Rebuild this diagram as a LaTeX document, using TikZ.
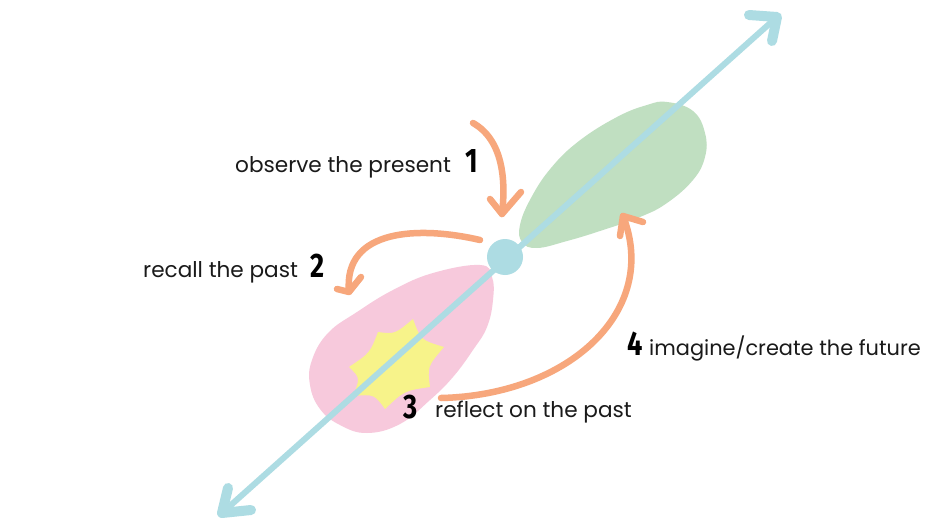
\documentclass[tikz,border=0pt]{standalone}
\usepackage{fontspec}
\setmainfont{Poppins}
\newfontfamily\numfont{Fira Sans}
\usetikzlibrary{calc}

\definecolor{axisblue}{HTML}{ADDCE3}
\definecolor{leafgreen}{HTML}{C0DFC1}
\definecolor{blushpink}{HTML}{F7C9DC}
\definecolor{sparkyellow}{HTML}{F7F38A}
\definecolor{flowor}{HTML}{F7A77C}
\definecolor{inkblack}{HTML}{1A1A1A}

\tikzset{
  axisline/.style={draw=axisblue, line width=6pt, line cap=round},
  axishead/.style={draw=axisblue, line width=10pt, line cap=round, line join=round},
  flow/.style={draw=flowor, line width=6.5pt, line cap=round},
  flowhead/.style={draw=flowor, line width=6.5pt, line cap=round, line join=round},
  caption/.style={inner sep=0pt, text=inkblack, font=\fontsize{21.6}{24}\selectfont, anchor=base west},
  stepnum/.style={inner sep=0pt, text=black, font=\numfont\bfseries\fontsize{34}{36}\selectfont, anchor=base},
}

\begin{document}
\begin{tikzpicture}[x=1pt, y=-1pt]
\clip (0,0) rectangle (926,524);
\fill[white] (0,0) rectangle (926,524);

% future blob
\fill[leafgreen] plot[smooth cycle, tension=0.7] coordinates {
  (520,225) (531,198) (551,168) (579,141) (617,117) (647,105) (667,102)
  (693,111) (705,133) (705,157) (693,180) (667,203) (640,217) (600,231)
  (567,241) (537,248) (522,242)};

% past blob
\fill[blushpink] plot[smooth cycle, tension=0.7] coordinates {
  (480,265) (492,277) (493,300) (487,327) (473,350) (453,377) (430,400)
  (400,424) (367,433) (340,425) (320,409) (310,385) (312,360) (328,333)
  (357,312) (393,290) (433,273)};

% spark in the past
\coordinate (sc) at (393,365);
\coordinate (s1) at (413,319);
\coordinate (s2) at (444,347);
\coordinate (s3) at (430,387);
\coordinate (s4) at (385,409);
\coordinate (s5) at (353,396);
\coordinate (s6) at (349,367);
\coordinate (s7) at (378,332);
\fill[sparkyellow] (s1)
  .. controls ($(s1)!.5!(s2)!.22!(sc)$) .. (s2)
  .. controls ($(s2)!.5!(s3)!.22!(sc)$) .. (s3)
  .. controls ($(s3)!.5!(s4)!.22!(sc)$) .. (s4)
  .. controls ($(s4)!.5!(s5)!.22!(sc)$) .. (s5)
  .. controls ($(s5)!.5!(s6)!.22!(sc)$) .. (s6)
  .. controls ($(s6)!.5!(s7)!.22!(sc)$) .. (s7)
  .. controls ($(s7)!.5!(s1)!.22!(sc)$) .. (s1) -- cycle;

% time axis
\coordinate (tail) at (222,513);
\coordinate (head) at (777,17);
\draw[axisline] (tail) -- (head);
\draw[axishead] (749,15) -- (head) -- (772,41);
\draw[axishead] (228,488) -- (tail) -- (251,510);

% the present moment
\node[circle, fill=axisblue, minimum size=36pt, inner sep=0pt] (now) at (505,257) {};

% step 1: observe
\coordinate (a1s) at (473,123);
\coordinate (a1e) at (502,214);
\draw[flow] (a1s) .. controls (503,140) and (506,180) .. (a1e);
\draw[flowhead] (490,199) -- (a1e) -- (521,192);

% step 2: recall
\coordinate (a2s) at (480,240);
\coordinate (a2e) at (349,292);
\draw[flow] (a2s) .. controls (420,226) and (343,228) .. (a2e);
\draw[flowhead] (337,289) -- (a2e) -- (361,277);

% steps 3 and 4: reflect, then imagine
\coordinate (a3s) at (441,398);
\coordinate (a3e) at (623,216);
\draw[flow] (a3s) .. controls (570,395) and (660,310) .. (a3e);
\draw[flowhead] (620,236) -- (a3e) -- (643,222);

% labels
\node[caption] (t1) at (235,172) {observe the present};
\node[stepnum] (n1) at (472,172) {\scalebox{0.8}[1]{1}};
\node[caption] (t2) at (143,277) {recall the past};
\node[stepnum] (n2) at (318,277) {\scalebox{0.8}[1]{2}};
\node[stepnum] (n3) at (411,418) {\scalebox{0.8}[1]{3}};
\node[caption] (t3) at (435,417) {reflect on the past};
\node[stepnum] (n4) at (635,355) {\scalebox{0.8}[1]{4}};
\node[caption, font=\fontsize{20.9}{24}\selectfont] (t4) at (649,355) {imagine/create the future};
\end{tikzpicture}
\end{document}
